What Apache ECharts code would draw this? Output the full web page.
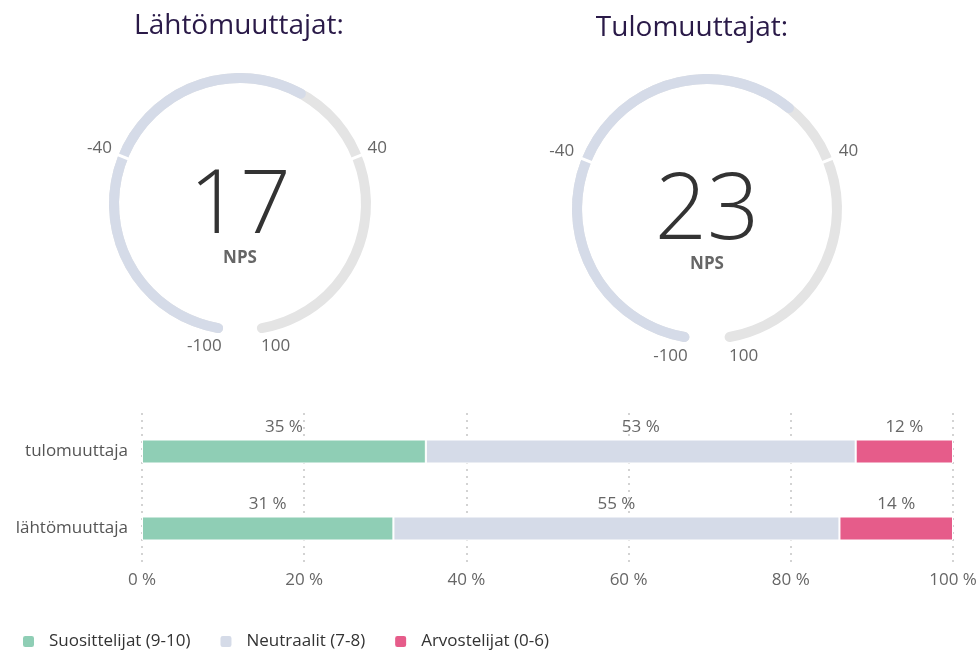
<!DOCTYPE html>
<html>
<head>
<meta charset="utf-8">
<script src="https://cdn.jsdelivr.net/npm/echarts@6/dist/echarts.min.js"></script>
<style>
  html, body { margin: 0; padding: 0; background: #fff; }
  #main { width: 980px; height: 650px; }
</style>
</head>
<body>
<div id="main"></div>
<script>
  // NPS gauges
  const gaugeTitles = ['Lähtömuuttajat:', 'Tulomuuttajat:']
  const npsValues = [17, 23]
  const npsMin = -100
  const npsMax = 100
  const npsTicks = [-100, -40, 40, 100]
  const npsBreaks = [-40, 40]

  // stacked bars
  const barCategories = ['lähtömuuttaja', 'tulomuuttaja']
  const seriesNames = ['Suosittelijat (9-10)', 'Neutraalit (7-8)', 'Arvostelijat (0-6)']
  const promoters = [31, 35]
  const passives = [55, 53]
  const detractors = [14, 12]

  const colors = ['#8fceb5', '#d5dbe8', '#e65c8a']
  const font = '"Open Sans", "Noto Sans", sans-serif'
  const START = 260, END = -80

  const angleOf = v => START - (v - npsMin) / (npsMax - npsMin) * (START - END)

  function ringSeries (i, center, radius) {
    const k = radius / 131
    const tick = { color: '#666', fontSize: 17, fontFamily: font }
    return {
      type: 'gauge',
      center: center,
      radius: radius,
      startAngle: START,
      endAngle: END,
      min: npsMin,
      max: npsMax,
      splitNumber: 10,
      axisLine: { roundCap: true, lineStyle: { width: 10, color: [[1, '#e4e4e4']] } },
      progress: { show: true, width: 10, roundCap: true, itemStyle: { color: '#d5dbe8' } },
      pointer: { show: false },
      anchor: { show: false },
      axisTick: { show: false },
      splitLine: { show: false, length: 0, distance: 0 },
      axisLabel: {
        distance: -34 * k,
        fontFamily: font,
        formatter: v => {
          if (npsTicks.indexOf(v) < 0) return ''
          if (v === npsMin) return '{bl|' + v + '}'
          if (v === npsMax) return '{br|' + v + '}'
          return v < 0 ? '{sl|' + v + '}' : '{sr|' + v + '}'
        },
        rich: {
          sl: Object.assign({ padding: [12, 0, 0, 0] }, tick),
          sr: Object.assign({ padding: [12, 6 * k * k, 0, 0] }, tick),
          bl: Object.assign({ padding: [0, 14, 12, 0] }, tick),
          br: Object.assign({ padding: [0, 0, 12, 14] }, tick)
        }
      },
      title: { offsetCenter: [0, 54 * k], fontSize: 17, fontWeight: 'bold', color: '#666', fontFamily: font },
      detail: {
        offsetCenter: [0, 4 * k],
        fontSize: 89 * k,
        fontWeight: 300,
        color: '#333',
        fontFamily: font,
        formatter: '{value}'
      },
      data: [{ value: npsValues[i], name: 'NPS' }]
    }
  }

  // white cuts in the ring at -40 and 40
  function breakSeries (center, radius) {
    return {
      type: 'gauge',
      z: 5,
      center: center,
      radius: radius,
      startAngle: angleOf(npsBreaks[0]),
      endAngle: angleOf(npsBreaks[1]),
      min: npsBreaks[0],
      max: npsBreaks[1],
      splitNumber: 1,
      axisLine: { show: false, lineStyle: { width: 10 } },
      splitLine: { show: true, distance: -11, length: 12, lineStyle: { color: '#fff', width: 3 } },
      axisTick: { show: false },
      axisLabel: { show: false },
      pointer: { show: false },
      anchor: { show: false },
      title: { show: false },
      detail: { show: false },
      data: []
    }
  }

  const barData = [promoters, passives, detractors]

  const myChart = echarts.init(document.getElementById('main'))
  myChart.setOption({
    animation: false,
    title: [
      { text: gaugeTitles[0], left: 234, top: 7, textAlign: 'center',
        textStyle: { fontSize: 28, fontWeight: 'normal', color: '#2a1a48', fontFamily: font } },
      { text: gaugeTitles[1], left: 687, top: 9, textAlign: 'center',
        textStyle: { fontSize: 28, fontWeight: 'normal', color: '#2a1a48', fontFamily: font } }
    ],
    legend: {
      left: 21,
      top: 633,
      padding: 0,
      icon: 'roundRect',
      itemWidth: 13,
      itemHeight: 13,
      itemGap: 28,
      textStyle: { fontSize: 17, color: '#333', fontFamily: font, padding: [0, 0, 0, 9] },
      data: seriesNames
    },
    grid: { left: 142, right: 27, top: 413, bottom: 83 },
    xAxis: {
      type: 'value',
      min: 0,
      max: 100,
      interval: 20,
      axisLine: { show: false },
      axisTick: { show: false },
      axisLabel: { formatter: '{value} %', color: '#666', fontSize: 17, fontFamily: font, margin: 5 },
      splitLine: { lineStyle: { color: '#d3d3d3', width: 2, type: [2, 5] } }
    },
    yAxis: {
      type: 'category',
      data: barCategories,
      axisLine: { show: false },
      axisTick: { show: false },
      axisLabel: { color: '#555', fontSize: 17, fontFamily: font, margin: 14 }
    },
    series: [
      ringSeries(0, [240, 204], 131),
      breakSeries([240, 204], 131),
      ringSeries(1, [707, 209], 135),
      breakSeries([707, 209], 135)
    ].concat(seriesNames.map((name, i) => ({
      name: name,
      type: 'bar',
      stack: 'nps',
      barWidth: 24,
      data: barData[i],
      itemStyle: { color: colors[i], borderColor: '#fff', borderWidth: 1 },
      label: {
        show: true,
        position: 'top',
        distance: 4,
        formatter: '{c} %',
        color: '#666',
        fontSize: 17,
        fontFamily: font
      }
    })))
  })
  window.addEventListener('resize', function () {
    myChart.resize()
  })
</script>
</body>
</html>
